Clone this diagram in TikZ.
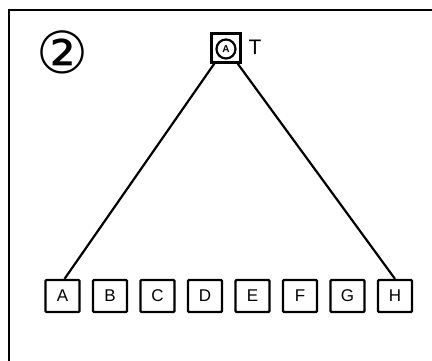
\documentclass[tikz,border=0pt]{standalone}
\usepackage{fontspec}
\setmainfont{Liberation Sans}
\newfontfamily\symfont{DejaVu Sans}
\begin{document}
\begin{tikzpicture}[x=1pt,y=1pt,
  leaf/.style={draw, line width=2.2pt, minimum width=34pt, minimum height=32pt, inner sep=0pt, font=\fontsize{17}{17}\selectfont, rounded corners=1pt},
  rootbox/.style={draw, line width=2.6pt, minimum width=29pt, minimum height=29pt, inner sep=0pt},
  edge/.style={line width=2.2pt}]
\useasboundingbox (0,0) rectangle (432,361);
\draw[line width=2.4pt] (9,0) -- (9,351) -- (432,351);
\node[font=\symfont\fontsize{58}{58}\selectfont] (num) at (62,309) {②};
\node[rootbox] (T) at (226,313) {};
\node[draw, circle, line width=2.2pt, minimum size=19pt, inner sep=0pt, font=\bfseries\fontsize{10}{10}\selectfont] (Tc) at (226,312) {A};
\node[font=\fontsize{21}{21}\selectfont] (Tl) at (255,314) {T};
\foreach \l [count=\i] in {A,B,C,D,E,F,G,H} {
  \node[leaf] (\l) at ({62.5+47.5*(\i-1)},65) {\l};
}
\draw[edge] ([xshift=4pt]T.south west) -- ([xshift=2pt]A.north);
\draw[edge] ([xshift=-4pt]T.south east) -- ([xshift=0pt]H.north);
\end{tikzpicture}
\end{document}
